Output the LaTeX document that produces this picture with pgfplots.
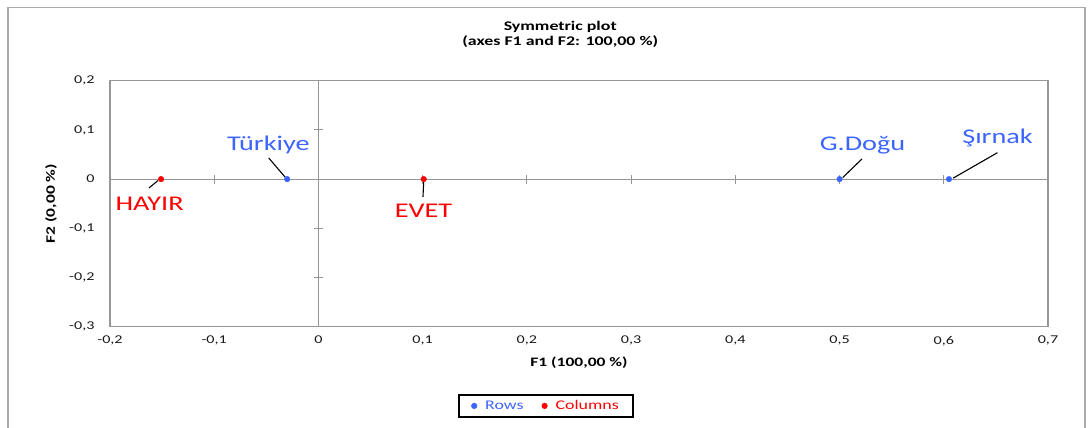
\documentclass[border=0pt]{standalone}
\usepackage{pgfplots}
\pgfplotsset{compat=1.18}
\usepackage{fontspec}
\setmainfont{Carlito}[FakeStretch=1.35]
\definecolor{myblue}{RGB}{60,100,255}
\definecolor{myred}{RGB}{255,0,0}
\definecolor{axgray}{RGB}{150,150,150}
\definecolor{framegray}{RGB}{170,170,170}
\begin{document}
\begin{tikzpicture}
\useasboundingbox (0,0) rectangle (1088bp,-428bp);
\begin{scope}
\clip (0,0) rectangle (1088bp,-428bp);
\draw[framegray, line width=1.3bp] (8bp,-440bp) -- (8bp,-7.5bp) -- (1085bp,-7.5bp) -- (1085bp,-440bp);
\end{scope}
% centre lines with crossing ticks
\begin{axis}[
  at={(110bp,-326.7bp)}, anchor=south west,
  scale only axis, width=938bp, height=246bp,
  xmin=-0.2, xmax=0.7, ymin=-0.3, ymax=0.2,
  axis lines=middle,
  axis line style={-, axgray, line width=1.2bp},
  xtick={-0.1,0.1,0.2,0.3,0.4,0.5,0.6},
  ytick={-0.2,-0.1,0.1},
  xticklabels={}, yticklabels={},
  tick align=center,
  major tick length=9bp,
  tick style={axgray, line width=1bp},
]
\end{axis}
\begin{axis}[
  at={(110bp,-326.7bp)}, anchor=south west,
  scale only axis, width=938bp, height=246bp,
  xmin=-0.2, xmax=0.7, ymin=-0.3, ymax=0.2,
  axis line style={axgray, line width=1.3bp},
  xtick={-0.2,-0.1,0,0.1,0.2,0.3,0.4,0.5,0.6,0.7},
  ytick={-0.3,-0.2,-0.1,0,0.1,0.2},
  major tick length=0pt,
  /pgf/number format/assume math mode=true,
  /pgf/number format/.cd, fixed, precision=1, use comma,
  /pgfplots/.cd,
  ticklabel style={font=\fontsize{12}{14}\selectfont, text=black!90},
  xticklabel style={yshift=-6bp},
  yticklabel style={xshift=-12bp},
  xlabel={\textbf{F1 (100,00 \%)}},
  ylabel={\textbf{F2 (0,00 \%)}},
  xlabel style={at={(axis description cs:0.5,-0.1476)}, anchor=center, font=\fontsize{13}{15}\selectfont},
  ylabel style={at={(axis description cs:-0.0629,0.5)}, anchor=center, rotate=0, font=\fontsize{13}{15}\selectfont},
  title={\textbf{Symmetric plot}\\\textbf{(axes F1 and F2: 100,00 \%)}},
  title style={at={(axis description cs:0.48,1.165)}, anchor=center, align=center, font=\fontsize{13.3}{15.5}\selectfont},
  legend style={at={(axis description cs:0.4648,-0.322)}, anchor=center,
    draw=black, line width=1.5bp, font=\fontsize{13.3}{15}\selectfont,
    legend columns=2, inner xsep=12bp, inner ysep=3.5bp,
    /tikz/every even column/.append style={column sep=16bp}},
  legend cell align=left,
  legend image code/.code={\fill[#1] (0bp,0bp) circle (2.3bp);},
  clip=false,
]
\addplot[only marks, mark=*, mark size=2.8bp, color=myblue] coordinates {
  (-0.030,0) (0.500,0) (0.605,0)
};
\addlegendentry{\hspace{6bp}\textcolor{myblue}{Rows}}
\addplot[only marks, mark=*, mark size=2.8bp, color=myred] coordinates {
  (-0.151,0) (0.101,0)
};
\addlegendentry{\hspace{6bp}\textcolor{myred}{Columns}}
% leader lines
\draw[black, line width=1.1bp] (axis cs:-0.0477,0.043) -- (axis cs:-0.032,0.004);
\draw[black, line width=1.1bp] (axis cs:-0.1626,-0.018) -- (axis cs:-0.154,-0.003);
\draw[black, line width=1.1bp] (axis cs:0.1003,-0.036) -- (axis cs:0.101,-0.005);
\draw[black, line width=1.1bp] (axis cs:0.5215,0.041) -- (axis cs:0.503,0.003);
\draw[black, line width=1.1bp] (axis cs:0.6515,0.0537) -- (axis cs:0.609,0.002);
% data labels
\node[anchor=base, text=myblue, font=\fontsize{21}{23}\selectfont] at (axis cs:-0.048,0.059) {Türkiye};
\node[anchor=base, text=myblue, font=\fontsize{21}{23}\selectfont] at (axis cs:0.522,0.059) {G.Doğu};
\node[anchor=base, text=myblue, font=\fontsize{21}{23}\selectfont] at (axis cs:0.6516,0.0728) {Şırnak};
\node[anchor=base, text=myred, font=\fontsize{21}{23}\selectfont] at (axis cs:-0.162,-0.0628) {HAYIR};
\node[anchor=base, text=myred, font=\fontsize{21}{23}\selectfont] at (axis cs:0.1008,-0.079) {EVET};
\end{axis}
\end{tikzpicture}
\end{document}
